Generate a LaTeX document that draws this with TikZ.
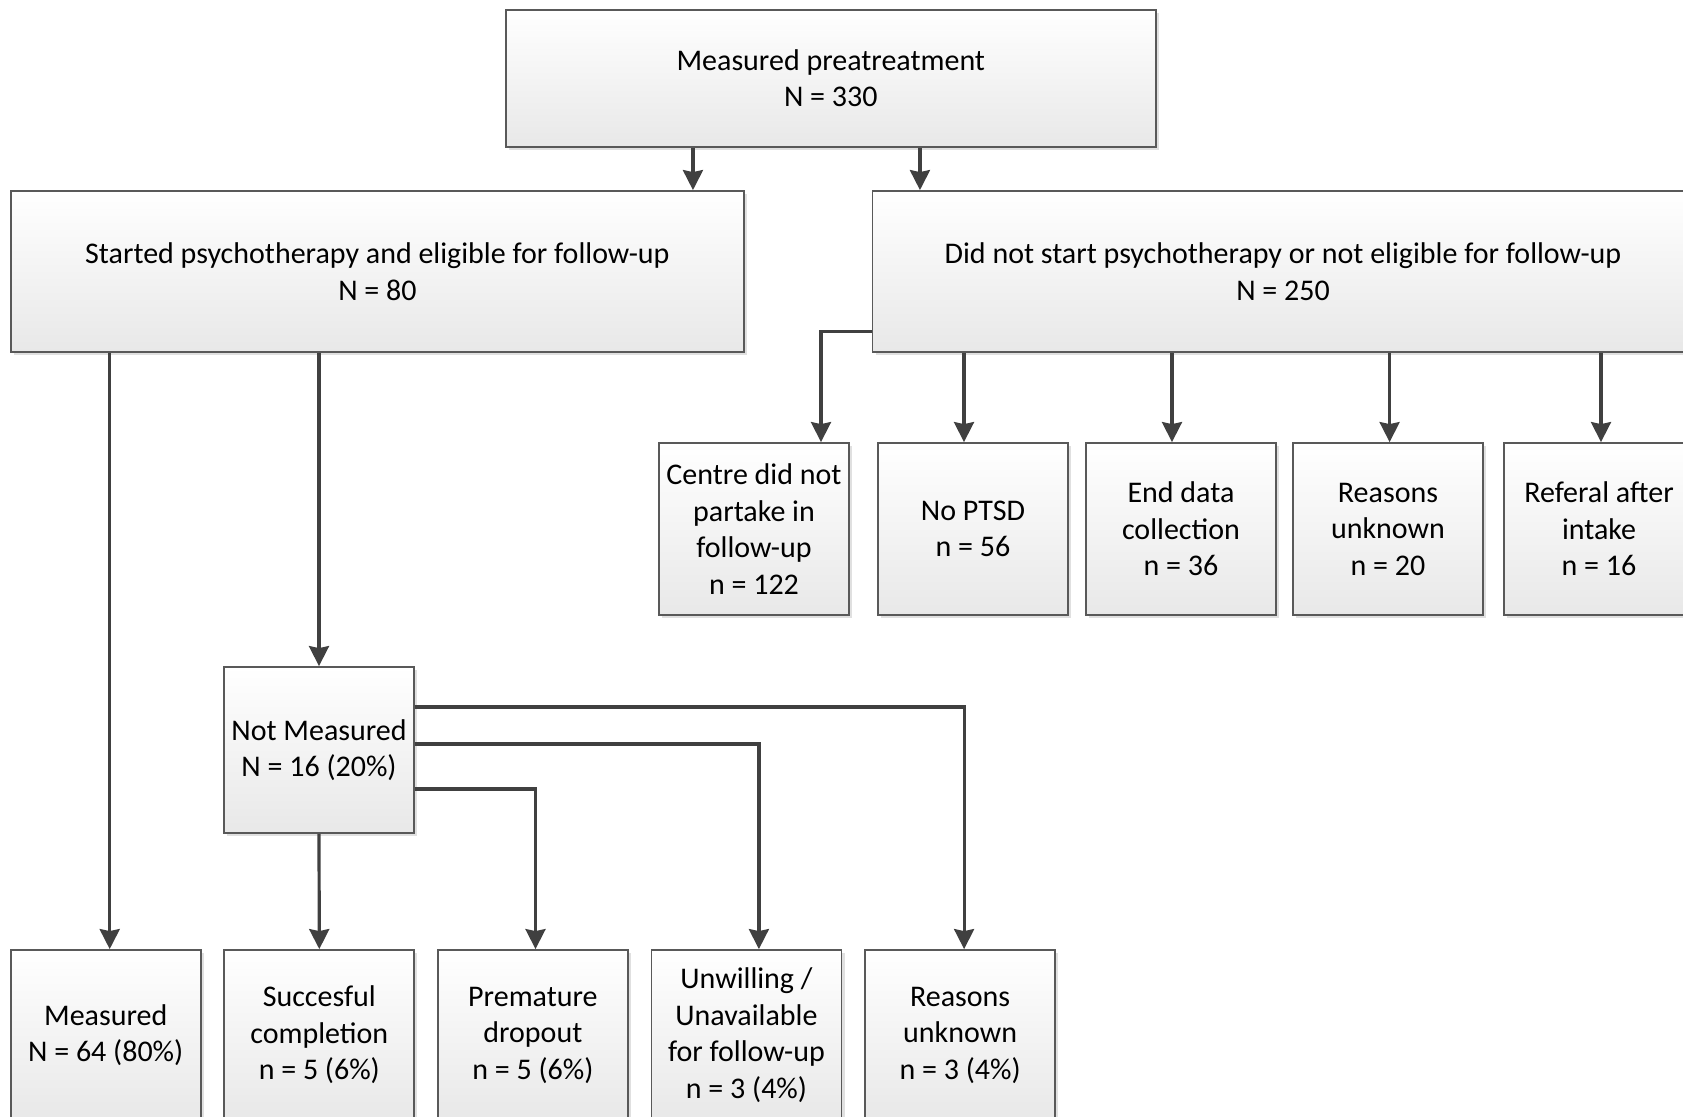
\documentclass[tikz,border=0pt]{standalone}
\usepackage{fontspec}
\setmainfont{Carlito}
\usetikzlibrary{positioning,arrows.meta,shadows}

\begin{document}
\begin{tikzpicture}[
    x=0.5pt, y=-0.5pt,
    font=\fontsize{15}{18.25}\selectfont,
    box/.style={rectangle, draw=black!65, line width=0.9pt, top color=white, bottom color=black!9, align=center, inner sep=2pt, drop shadow={shadow xshift=1.5pt, shadow yshift=-1.5pt, fill=black!30, opacity=0.4}},
    wide/.style={box, minimum width=366.5pt, minimum height=80.5pt},
    small/.style={box, minimum width=95pt, minimum height=86pt},
    leaf/.style={box, minimum width=95pt, minimum height=85pt},
    arrow/.style={draw=black!75, line width=1.6pt, -{Stealth[length=10pt, width=10pt, inset=1pt]}}
]
\useasboundingbox (0,0) rectangle (1683,1117);

% Top of the tree
\node[box, minimum width=325pt, minimum height=68.5pt] (pre) at (830.75,78.4) {Measured preatreatment\\N = 330};

\node[wide] (start) at (377.4,271.5) {Started psychotherapy and eligible for follow-up\\N = 80};

\node[box, minimum width=410.5pt, minimum height=80.5pt] (nostart) at (1283,271.5) {Did not start psychotherapy or not eligible for follow-up\\N = 250};

% Reasons for not starting
\node[small] (centre) at (754,529) {Centre did not\\partake in\\follow-up\\n = 122};
\node[small, right=13.6pt of centre] (noptsd) {No PTSD\\n = 56};
\node[small, right=8.1pt of noptsd] (enddata) {End data\\collection\\n = 36};
\node[small, right=7.6pt of enddata] (unknowna) {Reasons\\unknown\\n = 20};
\node[small, right=9.6pt of unknowna] (referal) {Referal after\\intake\\n = 16};

% Follow-up branch
\node[box, minimum width=95pt, minimum height=83pt] (notmeas) at (319,750) {Not Measured\\N = 16 (20\%)};

\node[leaf] (measured) at (105.7,1035) {Measured\\N = 64 (80\%)};
\node[leaf, right=10.9pt of measured] (success) {Succesful\\completion\\n = 5 (6\%)};
\node[leaf, right=10.9pt of success] (dropout) {Premature\\dropout\\n = 5 (6\%)};
\node[leaf, right=10.9pt of dropout] (unwilling) {Unwilling /\\Unavailable\\for follow-up\\n = 3 (4\%)};
\node[leaf, right=10.9pt of unwilling] (unknownb) {Reasons\\unknown\\n = 3 (4\%)};

% Connectors
\draw[arrow] ([xshift=-68.9pt]pre.south) -- ([xshift=-68.9pt]pre.south |- start.north);
\draw[arrow] ([xshift=44.6pt]pre.south) -- ([xshift=44.6pt]pre.south |- nostart.north);

\draw[arrow] ([yshift=10.7pt]nostart.south west) -| ([xshift=33.5pt]centre.north);
\draw[arrow] ([xshift=-4.5pt]noptsd.north |- nostart.south) -- ([xshift=-4.5pt]noptsd.north);
\draw[arrow] ([xshift=-4.5pt]enddata.north |- nostart.south) -- ([xshift=-4.5pt]enddata.north);
\draw[arrow] ([xshift=0.8pt]unknowna.north |- nostart.south) -- ([xshift=0.8pt]unknowna.north);
\draw[arrow] ([xshift=1pt]referal.north |- nostart.south) -- ([xshift=1pt]referal.north);

\draw[arrow] ([xshift=2pt]measured.north |- start.south) -- ([xshift=2pt]measured.north);
\draw[arrow] (notmeas.north |- start.south) -- (notmeas.north);
\draw[arrow] (notmeas.south) -- (success.north);
\draw[arrow] ([yshift=-19.5pt]notmeas.east) -| ([xshift=1.3pt]dropout.north);
\draw[arrow] ([yshift=3pt]notmeas.east) -| ([xshift=6.2pt]unwilling.north);
\draw[arrow] ([yshift=21.5pt]notmeas.east) -| ([xshift=2pt]unknownb.north);

\end{tikzpicture}
\end{document}
